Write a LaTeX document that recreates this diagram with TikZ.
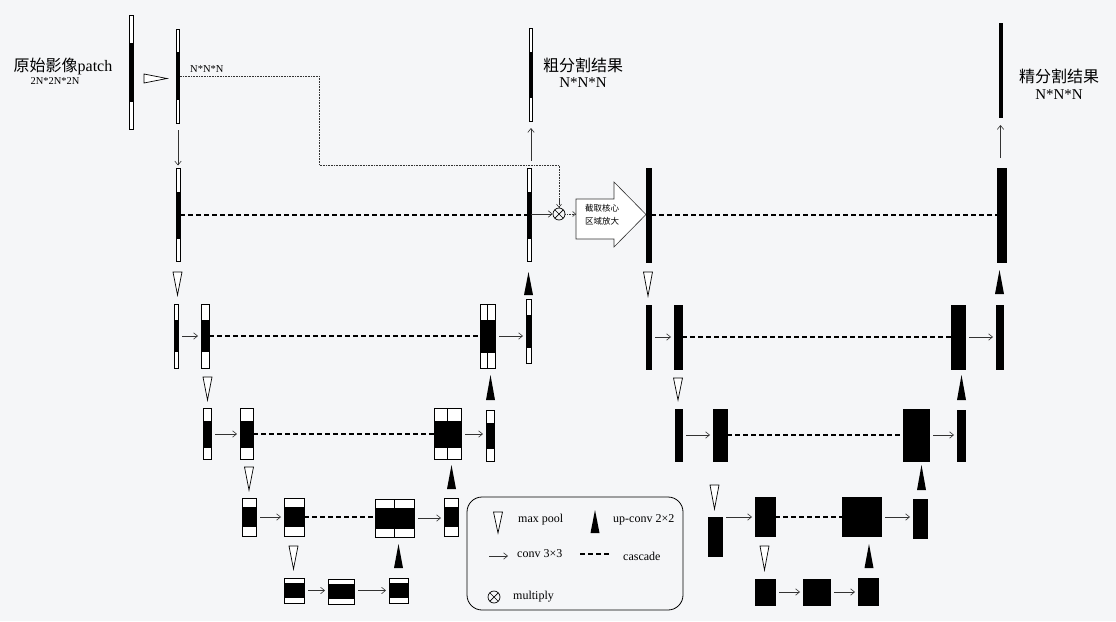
\documentclass[tikz,border=0pt]{standalone}
\usepackage{fontspec}
\setmainfont{Liberation Serif}
\newfontfamily\cjk{Noto Sans CJK SC}
\usetikzlibrary{arrows.meta}
\definecolor{bgc}{HTML}{F5F6F8}
\newcommand\mpdown[3]{\draw[mpool] ({#1-4.5},#2) -- ({#1+4.5},#2) -- (#1,#3) -- cycle;}
\newcommand\upcv[3]{\fill[upc] ({#1-4.5},#3) -- ({#1+4.5},#3) -- (#1,#2) -- cycle;}
\begin{document}
\begin{tikzpicture}[x=1pt,y=-1pt,
  ubar/.style={draw=black, fill=white, line width=0.7pt, inner sep=0pt, outer sep=0pt,
    path picture={\fill[black] ([yshift=#1]path picture bounding box.west) rectangle ([yshift=-#1]path picture bounding box.east);}},
  ucat/.style={draw=black, fill=white, line width=0.7pt, inner sep=0pt, outer sep=0pt,
    path picture={\fill[black] ([yshift=#1]path picture bounding box.west) rectangle ([yshift=-#1]path picture bounding box.east);
      \draw[line width=0.7pt] (path picture bounding box.north) -- (path picture bounding box.south);}},
  kbar/.style={fill=black, draw=black, line width=0.4pt, inner sep=0pt, outer sep=0pt},
  conv/.style={draw=black!80, line width=0.6pt, -{Straight Barb[length=4pt,width=6.5pt]}, shorten <=4pt, shorten >=3pt},
  casc/.style={draw=black, line width=1.8pt, dash pattern=on 5pt off 3pt},
  dotc/.style={draw=black!80, line width=0.6pt, densely dotted},
  mpool/.style={draw=black, fill=white, line width=0.7pt},
  upc/.style={fill=black},
  big/.style={font=\fontsize{16}{18}\selectfont},
  mid/.style={font=\fontsize{15}{17}\selectfont},
  small/.style={font=\fontsize{10.5}{12}\selectfont},
  legt/.style={font=\fontsize{12}{14}\selectfont, anchor=west, inner sep=0pt}
]
\useasboundingbox (0,0) rectangle (1116,621);
\fill[bgc] (0,0) rectangle (1116,621);

% ---------- top row ----------
\node[ubar=29.5pt, minimum width=3.5pt, minimum height=114pt] (P0) at (131.5,72) {};
\node[ubar=24pt, minimum width=3.5pt, minimum height=94pt] (P1) at (178,76) {};
\node[ubar=23pt, minimum width=3.5pt, minimum height=93pt] (CR) at (531,74.5) {};
\draw[mpool] (144,74) -- (167,78.5) -- (144,83) -- cycle;
\node[big] (t0) at (63,66) {{\cjk 原始影像}patch};
\node[small] (t0b) at (55,81) {2N*2N*2N};
\node[small, anchor=west, inner sep=0pt] (t1) at (190,69) {N*N*N};
\node[big, font=\cjk\fontsize{16}{18}\selectfont] (t2) at (583,65) {粗分割结果};
\node[mid] (t2b) at (583,83) {N*N*N};
\node[big, font=\cjk\fontsize{16}{18}\selectfont] (t3) at (1059,76) {精分割结果};
\node[mid] (t3b) at (1059,95) {N*N*N};

% ---------- left net ----------
\node[ubar=23.5pt, minimum width=4pt, minimum height=93pt] (L1a) at (178,215) {};
\node[ubar=23.5pt, minimum width=4pt, minimum height=93pt] (L1b) at (529,215) {};
\node[ubar=16pt, minimum width=4pt, minimum height=64pt] (L2a) at (176,336) {};
\node[ubar=16pt, minimum width=8pt, minimum height=64pt] (L2b) at (205,336) {};
\node[ucat=16.5pt, minimum width=15pt, minimum height=64pt] (L2c) at (487.5,336) {};
\node[ubar=16.5pt, minimum width=5pt, minimum height=64pt] (L2d) at (528.5,331) {};
\node[ubar=13.5pt, minimum width=8pt, minimum height=51pt] (L3a) at (207,434) {};
\node[ubar=13.5pt, minimum width=13pt, minimum height=51pt] (L3b) at (246.5,434) {};
\node[ucat=13.5pt, minimum width=27pt, minimum height=51pt] (L3c) at (447.5,434) {};
\node[ubar=13pt, minimum width=8pt, minimum height=51pt] (L3d) at (490,435.5) {};
\node[ubar=10pt, minimum width=14pt, minimum height=38pt] (L4a) at (249,517) {};
\node[ubar=10pt, minimum width=20pt, minimum height=38pt] (L4b) at (294,517) {};
\node[ucat=10.5pt, minimum width=39pt, minimum height=38pt] (L4c) at (394.5,518) {};
\node[ubar=10pt, minimum width=14pt, minimum height=38pt] (L4d) at (451,517) {};
\node[ubar=7.5pt, minimum width=20pt, minimum height=25pt] (L5a) at (294,590.5) {};
\node[ubar=7.5pt, minimum width=26pt, minimum height=25pt] (L5b) at (341,591.5) {};
\node[ubar=7.5pt, minimum width=19pt, minimum height=25pt] (L5c) at (398.5,590.5) {};

\draw[conv, shorten <=7pt] (P1.south) -- (L1a.north);
\draw[conv, shorten <=8pt, shorten >=7pt] (CR.south |- L1b.north) -- (CR.south);
\draw[casc] (L1a.east) -- (L1b.west);
\draw[conv] (L2a.east) -- (L2b.west);
\draw[casc] (L2b.east) -- (L2c.west);
\draw[conv] (L2c.east) -- (L2c.east -| L2d.west);
\draw[conv] (L3a.east) -- (L3b.west);
\draw[casc] (L3b.east) -- (L3c.west);
\draw[conv] (L3c.east) -- (L3c.east -| L3d.west);
\draw[conv] (L4a.east) -- (L4b.west);
\draw[casc] (L4b.east) -- (L4b.east -| L4c.west);
\draw[conv] (L4c.east) -- (L4c.east -| L4d.west);
\draw[conv] (L5a.east) -- (L5a.east -| L5b.west);
\draw[conv] (L5c.west -| L5b.east) -- (L5c.west);
\mpdown{177.5}{272}{295}
\mpdown{207.5}{377}{400}
\mpdown{249}{467}{490}
\mpdown{293.5}{546}{569}
\upcv{528.5}{272}{295}
\upcv{490.5}{375}{400}
\upcv{451.5}{465}{489}
\upcv{398.5}{544}{568}

% ---------- multiply and crop ----------
\node[draw, circle, minimum size=12pt, inner sep=0pt, line width=0.7pt,
  path picture={\draw[line width=0.7pt] (path picture bounding box.north west) -- (path picture bounding box.south east)
    (path picture bounding box.north east) -- (path picture bounding box.south west);}] (mul) at (559,214) {};
\coordinate (d1) at (319,165);
\draw[dotc] (P1.east) -| (d1) -| (mul.north);
\draw[dotc, -{Straight Barb[length=3pt,width=5pt]}] (mul.north) ++(0,-8) -- (mul.north);
\draw[conv, shorten <=0pt, shorten >=0pt] (mul.west -| L1b.east) -- (mul.west);
\draw[fill=white, draw=black!80, line width=0.6pt] (576,199) -- (614,199) -- (614,182) -- (646,214.5) -- (614,247) -- (614,239) -- (576,239) -- cycle;
\coordinate (ba) at (576,214);
\draw[dotc, -{Straight Barb[length=3pt,width=5pt]}] (mul.east) -- (ba);
\node[font=\cjk\fontsize{8.5}{13}\selectfont, align=center] (crop) at (602,215) {截取核心\\区域放大};

% ---------- right net ----------
\node[kbar, minimum width=5pt, minimum height=94pt] (R1a) at (648.5,215) {};
\node[kbar, minimum width=9pt, minimum height=94pt] (R1b) at (1001.5,215) {};
\node[kbar, minimum width=3pt, minimum height=94pt] (F) at (1000.5,70) {};
\node[kbar, minimum width=5pt, minimum height=64pt] (R2a) at (648.5,337) {};
\node[kbar, minimum width=8pt, minimum height=64pt] (R2b) at (678,337) {};
\node[kbar, minimum width=14pt, minimum height=64pt] (R2c) at (958,337) {};
\node[kbar, minimum width=7pt, minimum height=64pt] (R2d) at (999.5,337) {};
\node[kbar, minimum width=7pt, minimum height=52pt] (R3a) at (678.5,435) {};
\node[kbar, minimum width=14pt, minimum height=52pt] (R3b) at (720,435) {};
\node[kbar, minimum width=26pt, minimum height=52pt] (R3c) at (916,435) {};
\node[kbar, minimum width=8pt, minimum height=51pt] (R3d) at (961,435.5) {};
\node[kbar, minimum width=14pt, minimum height=39pt] (R4a) at (715,536.5) {};
\node[kbar, minimum width=20pt, minimum height=39pt] (R4b) at (765,517) {};
\node[kbar, minimum width=39pt, minimum height=39pt] (R4c) at (861.5,517) {};
\node[kbar, minimum width=14pt, minimum height=39pt] (R4d) at (920,518.5) {};
\node[kbar, minimum width=20pt, minimum height=26pt] (R5a) at (765,592) {};
\node[kbar, minimum width=27pt, minimum height=26pt] (R5b) at (816.5,592) {};
\node[kbar, minimum width=20pt, minimum height=27pt] (R5c) at (868,591.5) {};

\draw[casc] (R1a.east) -- (R1b.west);
\draw[conv, shorten <=10pt, shorten >=8pt] (F.south |- R1b.north) -- (F.south);
\draw[conv] (R2a.east) -- (R2b.west);
\draw[casc] (R2b.east) -- (R2c.west);
\draw[conv] (R2c.east) -- (R2d.west);
\draw[conv] (R3a.east) -- (R3b.west);
\draw[casc] (R3b.east) -- (R3c.west);
\draw[conv] (R3c.east) -- (R3c.east -| R3d.west);
\draw[conv] (R4b.west -| R4a.east) -- (R4b.west);
\draw[casc] (R4b.east) -- (R4c.west);
\draw[conv] (R4c.east) -- (R4c.east -| R4d.west);
\draw[conv] (R5a.east) -- (R5b.west);
\draw[conv] (R5b.east) -- (R5b.east -| R5c.west);
\mpdown{648}{272}{296}
\mpdown{678}{378}{400}
\mpdown{714.5}{485}{509}
\mpdown{764.5}{546}{570}
\upcv{999.5}{270}{294}
\upcv{961.5}{375}{400}
\upcv{921.5}{465}{490}
\upcv{869}{544}{568}

% ---------- legend ----------
\node[draw, rounded corners=15pt, line width=0.8pt, minimum width=216pt, minimum height=113pt, inner sep=0pt] (leg) at (575,553.5) {};
\mpdown{498}{512}{533}
\node[legt] (lg1) at (518,520) {max pool};
\upcv{595}{510}{533}
\node[legt] (lg2) at (613,520) {up-conv 2×2};
\coordinate (la1) at (485,556);
\coordinate (la2) at (511,556);
\draw[conv] (la1) -- (la2);
\node[legt] (lg3) at (517,554) {conv 3×3};
\coordinate (ld1) at (580,554);
\coordinate (ld2) at (610,554);
\draw[casc] (ld1) -- (ld2);
\node[legt] (lg4) at (623,556) {cascade};
\node[draw, circle, minimum size=12pt, inner sep=0pt, line width=0.7pt,
  path picture={\draw[line width=0.7pt] (path picture bounding box.north west) -- (path picture bounding box.south east)
    (path picture bounding box.north east) -- (path picture bounding box.south west);}] (lmul) at (494,597) {};
\node[legt] (lg5) at (513,597) {multiply};
\end{tikzpicture}
\end{document}
